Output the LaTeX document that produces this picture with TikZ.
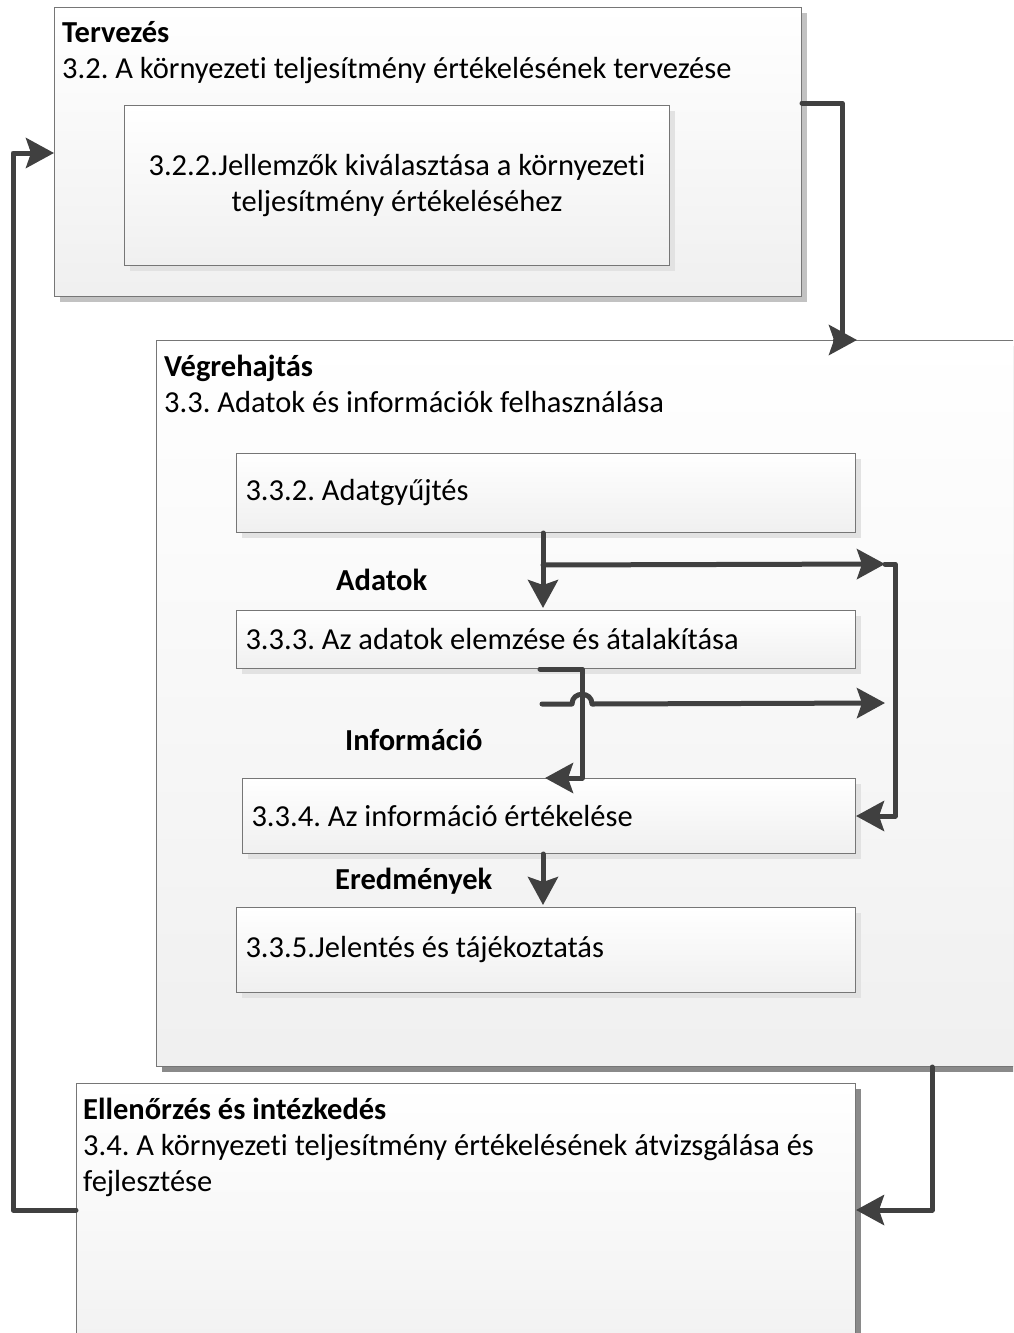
\documentclass[tikz,border=0pt]{standalone}
\usepackage{fontspec}
\setmainfont{Carlito}[Ligatures=NoCommon]
\frenchspacing
\usetikzlibrary{arrows.meta,shadows,calc}
\definecolor{wire}{HTML}{404040}
\definecolor{frame}{HTML}{767676}
\definecolor{shadeLight}{HTML}{E2E2E2}
\definecolor{shadeMid}{HTML}{C2C2C2}
\definecolor{shadeDark}{HTML}{8A8A8A}

\begin{document}
\begin{tikzpicture}[x=1pt,y=-1pt,
  every node/.style={font=\fontsize{30.5pt}{36pt}\selectfont, text=black},
  panel/.style={draw=frame, line width=1pt, top color=white, bottom color=black!6,
    anchor=north west, inner sep=0pt,
    drop shadow={shadow xshift=5pt, shadow yshift=-5pt, fill=#1, opacity=1}},
  panel/.default=shadeLight,
  stepbox/.style={panel, align=flush left, inner xsep=9pt},
  line/.style={anchor=base west, inner sep=0pt},
  tag/.style={anchor=base west, inner sep=0pt, font=\fontsize{30.5pt}{36pt}\selectfont\bfseries},
  conn/.style={draw=wire, line width=5pt, line cap=round, line join=round},
  flow/.style={conn, -{Stealth[length=28pt, width=30pt, inset=5pt]}}
]
\useasboundingbox (0,0) rectangle (1013,1333);
\clip (0,0) rectangle (1013,1333);

% Planning phase
\node[panel=shadeMid, minimum width=747pt, minimum height=289pt] (plan) at (54,7) {};
\node[tag]  (planT) at (62,42) {Tervezés};
\node[line] (planS) at (62,78) {3.2. A környezeti teljesítmény értékelésének tervezése};
\node[panel, align=center, minimum width=545pt, minimum height=160pt] (sel) at (124,105)
  {3.2.2.Jellemzők kiválasztása a környezeti\\teljesítmény értékeléséhez};

% Implementation phase
\node[panel=shadeDark, minimum width=900pt, minimum height=726pt] (exec) at (156,340) {};
\node[tag]  (execT) at (164,376) {Végrehajtás};
\node[line] (execS) at (164,412) {3.3. Adatok és információk felhasználása};

\node[stepbox, minimum width=619pt, minimum height=79pt, text width=601pt] (collect) at (236,453)
  {3.3.2. Adatgyűjtés};
\node[stepbox, minimum width=619pt, minimum height=58pt, text width=601pt] (analyse) at (236,610)
  {3.3.3. Az adatok elemzése és átalakítása};
\node[stepbox, minimum width=613pt, minimum height=75pt, text width=595pt] (evaluate) at (242,778)
  {3.3.4. Az információ értékelése};
\node[stepbox, minimum width=619pt, minimum height=85pt, text width=601pt] (report) at (236,907)
  {3.3.5.Jelentés és tájékoztatás};

\node[tag] (lblData) at (336,590) {Adatok};
\node[tag] (lblInfo) at (345,750) {Információ};
\node[tag] (lblRes)  at (335,889) {Eredmények};

% Checking phase
\node[panel=shadeDark, minimum width=779pt, minimum height=300pt] (review) at (76,1083) {};
\node[tag]  (revT)  at (83,1119) {Ellenőrzés és intézkedés};
\node[line] (revS1) at (83,1155) {3.4. A környezeti teljesítmény értékelésének átvizsgálása és};
\node[line] (revS2) at (83,1191) {fejlesztése};

% Bus points on the right of the step column and the line hop
\coordinate (busA) at (885,564);
\coordinate (busB) at (885,703);
\coordinate (hopL) at ([xshift=336pt,yshift=-35pt]analyse.south west);
\coordinate (hopR) at ([xshift=356pt,yshift=-35pt]analyse.south west);

% Phase connectors
\draw[flow] ([yshift=-96pt]plan.north east) -| ([xshift=686pt]exec.north west)
  -- ([xshift=701pt]exec.north west);
\draw[flow] ([xshift=776pt]exec.south west) |- ([yshift=-127pt]review.north east);
\draw[flow] ([yshift=-127pt]review.north west) -- ++(-63,0) |- ([yshift=-146pt]plan.north west);

% Step connectors
\draw[flow] ([xshift=307pt]collect.south west) -- ([xshift=307pt,yshift=2pt]analyse.north west);
\draw[flow] ([xshift=307pt,yshift=-32pt]collect.south west) -- (busA);
\draw[flow] (busA) -- ++(10,0) |- (evaluate.east);
\draw[flow] ([xshift=304pt]analyse.south west) -- ++(42,0) |- ([xshift=303pt]evaluate.north west);
\draw[flow] ([xshift=306pt,yshift=-35pt]analyse.south west) -- (hopL)
  .. controls +(0,-13) and +(0,-13) .. (hopR) -- (busB);
\draw[flow] ([xshift=301pt]evaluate.south west) -- ([xshift=307pt,yshift=2pt]report.north west);
\end{tikzpicture}
\end{document}
